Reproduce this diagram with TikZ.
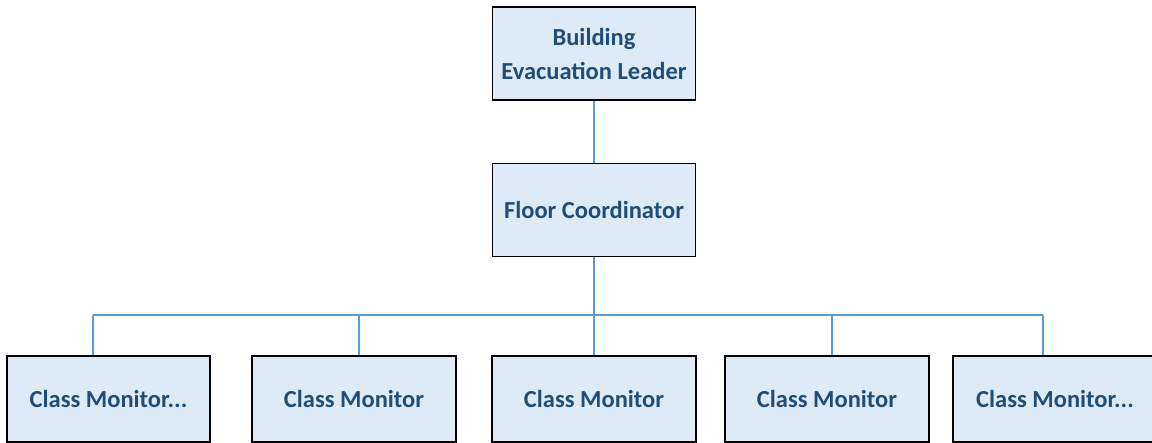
\documentclass[tikz,border=0pt]{standalone}
\usepackage{fontspec}
\setmainfont{Carlito}
\definecolor{boxfill}{HTML}{DEEAF6}
\definecolor{boxtext}{HTML}{1F4E79}
\definecolor{linkblue}{HTML}{5B9BD5}
\begin{document}
\begin{tikzpicture}[x=1pt, y=-1pt,
  role/.style={rectangle, draw=black, line width=1.6pt, fill=boxfill,
    minimum width=203pt, minimum height=93pt, inner sep=0pt, align=center,
    text=boxtext, font=\fontsize{24.5}{34}\selectfont\bfseries},
  monitor/.style={role, minimum height=86pt},
  link/.style={draw=linkblue, line width=1.4pt}]
  \useasboundingbox (0,0) rectangle (1152,443);

  % Draw leader and coordinator
  \node[role] (leader) at (594,53.5) {Building\\Evacuation Leader};
  \node[role] (floor) at (594,210) {Floor Coordinator};

  % Draw class monitors
  \node[monitor] (mon1) at (108.5,399) {Class Monitor...};
  \node[monitor, minimum width=204pt] (mon2) at (354,399) {Class Monitor};
  \node[monitor, minimum width=204pt] (mon3) at (594,399) {Class Monitor};
  \node[monitor, minimum width=204pt] (mon4) at (827,399) {Class Monitor};
  \node[monitor, minimum width=204pt] (mon5) at (1055,399) {Class Monitor...};

  % Draw bus joints
  \coordinate (bus) at (594,315);
  \coordinate (j1) at (93,315);
  \coordinate (j2) at (359,315);
  \coordinate (j4) at (832,315);
  \coordinate (j5) at (1043,315);

  % Draw links
  \draw[link] (leader) -- (floor);
  \draw[link] (floor) -- (bus);
  \draw[link] (j1) -- (j5);
  \draw[link] (j1) -- (j1 |- mon1.north);
  \draw[link] (j2) -- (j2 |- mon2.north);
  \draw[link] (bus) -- (mon3);
  \draw[link] (j4) -- (j4 |- mon4.north);
  \draw[link] (j5) -- (j5 |- mon5.north);
\end{tikzpicture}
\end{document}
